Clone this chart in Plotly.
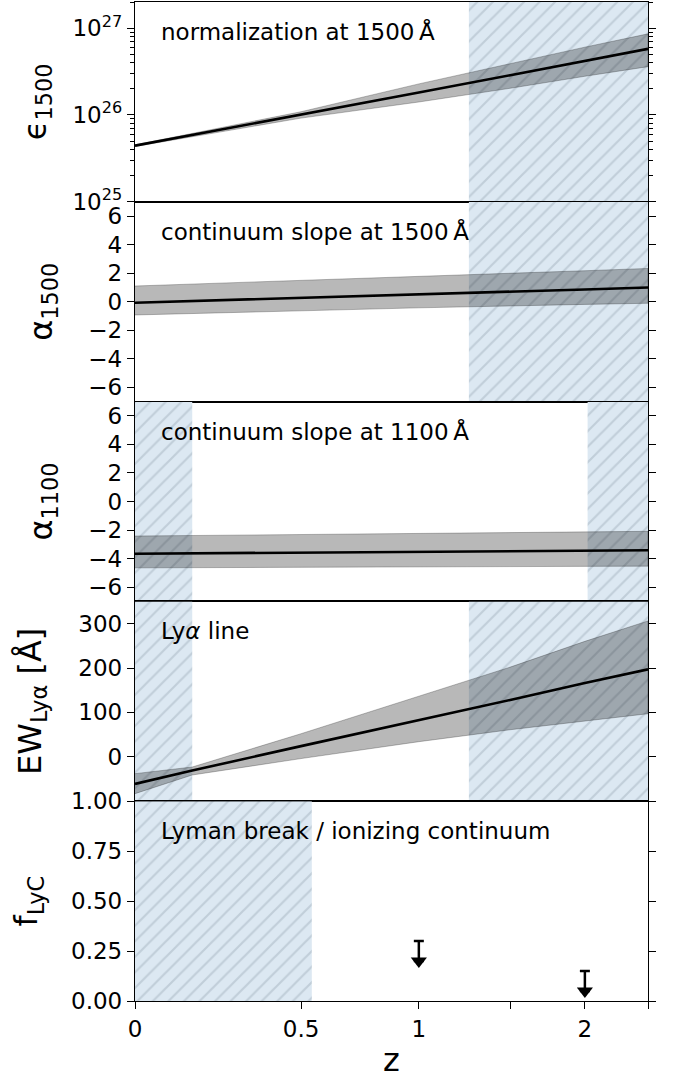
import numpy as np
import plotly.graph_objects as go
from plotly.subplots import make_subplots

# ---------------- data ----------------
z_grid = [0.0, 0.5, 1.0, 1.5, 2.0, 2.5]

# normalization at 1500 A
eps1500_mid = [4.43e25, 1.00e26, 1.81e26, 2.87e26, 4.22e26, 5.77e26]
eps1500_lo = [4.33e25, 9.2e25, 1.41e26, 2.03e26, 2.79e26, 3.60e26]
eps1500_hi = [4.53e25, 1.09e26, 2.28e26, 3.92e26, 6.04e26, 8.60e26]

# continuum slope at 1500 A
a1500_mid = [-0.07, 0.26, 0.49, 0.68, 0.86, 1.00]
a1500_lo = [-0.93, -0.64, -0.43, -0.29, -0.19, -0.11]
a1500_hi = [1.10, 1.48, 1.75, 1.97, 2.17, 2.33]

# continuum slope at 1100 A
a1100_mid = [-3.66, -3.59, -3.53, -3.48, -3.45, -3.42]
a1100_lo = [-4.65, -4.62, -4.60, -4.57, -4.55, -4.53]
a1100_hi = [-2.42, -2.33, -2.25, -2.18, -2.13, -2.09]

# Lya equivalent width
z_ew = [0.0, 0.15, 0.5, 1.0, 1.5, 2.0, 2.5]
ew_mid = [-61, -31, 24, 82, 128, 166, 197]
ew_lo = [-83, -41, -4, 34, 61, 81, 97]
ew_hi = [-38, -23, 52, 136, 202, 260, 306]

# ionizing continuum upper limits
z_lyc = [1.0, 2.0]
f_lyc_limit = [0.30, 0.15]
arrow_len = [0.10, 0.10]

# redshift ranges not covered by the data (z_start, z_end) per panel
hatch_ranges = {
    1: [(1.26, 2.5)],
    2: [(1.26, 2.5)],
    3: [(0.0, 0.15), (2.02, 2.5)],
    4: [(0.0, 0.15), (1.26, 2.5)],
    5: [(0.0, 0.54)],
}

z_ticks = [0, 0.5, 1, 1.5, 2, 2.5]
z_ticklabels = ["0", "0.5", "1", "", "2", ""]

y_ranges = {1: (1e25, 2e27), 2: (-7, 7), 3: (-7, 7), 4: (-100, 350), 5: (0, 1)}

panel_texts = [
    "normalization at 1500\u2009Å",
    "continuum slope at 1500\u2009Å",
    "continuum slope at 1100\u2009Å",
    "Ly<i>α</i> line",
    "Lyman break / ionizing continuum",
]
y_titles = [
    "ϵ<sub>1500</sub>",
    "α<sub>1500</sub>",
    "α<sub>1100</sub>",
    "EW<sub>Lyα</sub> [Å]",
    "f<sub>LyC</sub>",
]
title_standoff = [16, 26, 26, 27, 23]

FONT = "DejaVu Sans"
BAND = "rgba(0,0,0,0.28)"
BAND_EDGE = "rgba(0,0,0,0.25)"
TICK_SIZE = 23
TITLE_SIZE = 32
TEXT_SIZE = 23


def onepz(zs):
    return [1.0 + z for z in zs]


fig = make_subplots(rows=5, cols=1, shared_xaxes=True, vertical_spacing=0)

# hatched coverage gaps
for row, ranges in hatch_ranges.items():
    y0, y1 = y_ranges[row]
    for za, zb in ranges:
        xa, xb = 1 + za, 1 + zb
        fig.add_trace(
            go.Scatter(
                x=[xa, xb, xb, xa, xa],
                y=[y0, y0, y1, y1, y0],
                mode="lines",
                line=dict(width=0),
                fill="toself",
                fillcolor="rgb(220,232,242)",
                fillpattern=dict(
                    shape="/",
                    bgcolor="rgb(220,232,242)",
                    fgcolor="rgb(166,180,192)",
                    size=11,
                    solidity=0.2,
                ),
                hoverinfo="skip",
                showlegend=False,
            ),
            row=row,
            col=1,
        )


def add_band(row, zs, lo, mid, hi):
    x = onepz(zs)
    fig.add_trace(
        go.Scatter(
            x=x + x[::-1],
            y=list(hi) + list(lo)[::-1],
            mode="lines",
            line=dict(color=BAND_EDGE, width=1),
            fill="toself",
            fillcolor=BAND,
            hoverinfo="skip",
            showlegend=False,
        ),
        row=row,
        col=1,
    )
    fig.add_trace(
        go.Scatter(
            x=x,
            y=mid,
            mode="lines",
            line=dict(color="black", width=2.6),
            showlegend=False,
        ),
        row=row,
        col=1,
    )


add_band(1, z_grid, eps1500_lo, eps1500_mid, eps1500_hi)
add_band(2, z_grid, a1500_lo, a1500_mid, a1500_hi)
add_band(3, z_grid, a1100_lo, a1100_mid, a1100_hi)
add_band(4, z_ew, ew_lo, ew_mid, ew_hi)

# upper limits: cap at the limit, arrow pointing down
fig.add_trace(
    go.Scatter(
        x=onepz(z_lyc),
        y=[f - d for f, d in zip(f_lyc_limit, arrow_len)],
        mode="markers",
        marker=dict(symbol="triangle-down", size=14, color="black"),
        error_y=dict(
            type="data",
            symmetric=False,
            array=arrow_len,
            arrayminus=[0, 0],
            color="black",
            thickness=2.5,
            width=5,
        ),
        showlegend=False,
    ),
    row=5,
    col=1,
)

axis_common = dict(
    showline=True,
    linecolor="black",
    linewidth=1.3,
    showgrid=False,
    zeroline=False,
    automargin=False,
    ticks="outside",
    ticklen=7,
    tickwidth=1.3,
    tickcolor="black",
    tickfont=dict(family=FONT, size=TICK_SIZE, color="black"),
)

for row in range(1, 6):
    xa = dict(axis_common)
    xa.update(
        type="log",
        range=[0, np.log10(3.5)],
        mirror=True,
        tickvals=onepz(z_ticks),
        ticktext=z_ticklabels,
    )
    if row < 5:
        xa.update(ticks="", showticklabels=False)
    else:
        xa.update(
            title=dict(text="z", font=dict(family=FONT, size=TITLE_SIZE, color="black"), standoff=8)
        )
    fig.update_xaxes(xa, row=row, col=1)

    ya = dict(axis_common)
    ya.update(
        mirror="ticks",
        title=dict(
            text=y_titles[row - 1],
            font=dict(family=FONT, size=TITLE_SIZE, color="black"),
            standoff=title_standoff[row - 1],
        ),
    )
    if row == 1:
        minor_vals = [k * 10.0 ** e for e in (25, 26) for k in range(2, 10)] + [2e27]
        ya.update(
            type="log",
            range=[25, np.log10(2e27)],
            tickvals=[1e25, 1e26, 1e27],
            ticktext=["10<sup>25</sup>", "10<sup>26</sup>", "10<sup>27</sup>"],
            minor=dict(ticks="outside", ticklen=4, tickwidth=1, tickcolor="black", tickvals=minor_vals),
        )
    elif row in (2, 3):
        vals = [-6, -4, -2, 0, 2, 4, 6]
        ya.update(
            range=[-7, 7],
            tickvals=vals,
            ticktext=[str(v).replace("-", "\u2212") for v in vals],
        )
    elif row == 4:
        ya.update(range=[-100, 350], tickvals=[0, 100, 200, 300], ticktext=["0", "100", "200", "300"])
    else:
        vals = [0, 0.25, 0.5, 0.75, 1.0]
        ya.update(range=[0, 1], tickvals=vals, ticktext=[f"{v:.2f}" for v in vals])
    fig.update_yaxes(ya, row=row, col=1)

for i, txt in enumerate(panel_texts):
    suffix = "" if i == 0 else str(i + 1)
    fig.add_annotation(
        text=txt,
        xref=f"x{suffix} domain",
        yref=f"y{suffix} domain",
        x=0.046,
        y=0.85,
        xanchor="left",
        yanchor="middle",
        showarrow=False,
        font=dict(family=FONT, size=TEXT_SIZE, color="black"),
    )

fig.update_layout(
    width=673,
    height=1079,
    margin=dict(l=135, r=25, t=2, b=78),
    paper_bgcolor="white",
    plot_bgcolor="white",
    showlegend=False,
    font=dict(family=FONT, color="black"),
)

fig.write_html("out.html")
